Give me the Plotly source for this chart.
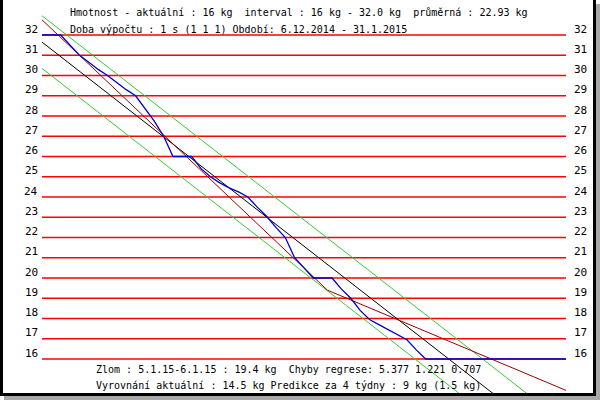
import plotly.graph_objects as go

# ---------------- data ----------------
start_date = "6.12.2014"
end_date = "31.1.2015"
n_days = 56  # 6.12.2014 .. 31.1.2015

levels = list(range(16, 33))          # horizontal lines / tick labels
tick_labels = [str(v) for v in levels]

# measured weight (clipped to interval 16..32), one value per day
weight_days = list(range(0, 57))
weight_vals = [32.0, 32.0, 32.0, 31.5, 31.0, 30.65, 30.3, 30.0, 29.65, 29.3,
               29.0, 28.4, 27.75, 27.0, 26.0, 26.0, 26.0, 25.4, 25.0, 24.7,
               24.45, 24.25, 24.0, 23.5, 23.05, 22.5, 22.0, 21.0, 20.5, 20.0,
               20.0, 20.0, 19.45, 19.0, 18.4, 17.95, 17.7, 17.45, 17.2, 16.95,
               16.45, 16.0, 16.0, 16.0, 16.0, 16.0, 16.0, 16.0, 16.0, 16.0,
               16.0, 16.0, 16.0, 16.0, 16.0, 16.0, 16.0]

# regression with break (zlom 5.1.15-6.1.15 : 19.4 kg)
reg_days = [0, 30.5, 56]
reg_vals = [32.75, 19.4, 14.45]

# overall linear trend and its band
trend_days = [0, 56]
trend_vals = [31.65, 11.49]
band_half = 1.3

header1 = "Hmotnost - aktuální : 16 kg  interval : 16 kg - 32.0 kg  průměrná : 22.93 kg"
header2 = "Doba výpočtu : 1 s (1 1 1) Období: 6.12.2014 - 31.1.2015"
footer1 = "Zlom : 5.1.15-6.1.15 : 19.4 kg  Chyby regrese: 5.377 1.221 0.707"
footer2 = "Vyrovnání aktuální : 14.5 kg Predikce za 4 týdny : 9 kg (1.5 kg)"

# ---------------- layout geometry ----------------
W, H = 600, 400
x0_px, x1_px = 42, 566
ppd = (x1_px - x0_px) / n_days
y32_px, kg_px = 35, 20.25

xr = [-x0_px / ppd, (W - x0_px) / ppd]
yr = [32 - (H - y32_px) / kg_px, 32 + y32_px / kg_px]

FONT = "DejaVu Sans Mono"

fig = go.Figure()

# red horizontal lines
hx, hy = [], []
for v in levels:
    hx += [0, n_days, None]
    hy += [v, v, None]
fig.add_trace(go.Scatter(x=hx, y=hy, mode="lines",
                         line=dict(color="#ff0000", width=1.3), hoverinfo="skip"))

# green band
fig.add_trace(go.Scatter(x=trend_days, y=[v + band_half for v in trend_vals], mode="lines",
                         line=dict(color="#33cc33", width=1), hoverinfo="skip"))
fig.add_trace(go.Scatter(x=trend_days, y=[v - band_half for v in trend_vals], mode="lines",
                         line=dict(color="#33cc33", width=1), hoverinfo="skip"))
# black trend
fig.add_trace(go.Scatter(x=trend_days, y=trend_vals, mode="lines",
                         line=dict(color="#000000", width=1), hoverinfo="skip"))
# brown regression
fig.add_trace(go.Scatter(x=reg_days, y=reg_vals, mode="lines",
                         line=dict(color="#990000", width=1), hoverinfo="skip"))
# blue measurement
fig.add_trace(go.Scatter(x=weight_days, y=weight_vals, mode="lines",
                         line=dict(color="#0000cc", width=1.3), hoverinfo="skip"))

ann = []
for v, t in zip(levels, tick_labels):
    ann.append(dict(x=40 / W, xref="paper", y=v, yref="y", text=t, showarrow=False,
                    xanchor="right", yanchor="middle", yshift=6,
                    font=dict(family=FONT, size=11, color="black")))
    ann.append(dict(x=572 / W, xref="paper", y=v, yref="y", text=t, showarrow=False,
                    xanchor="left", yanchor="middle", yshift=6,
                    font=dict(family=FONT, size=11, color="black")))

for txt, px, py in [(header1, 68, 13), (header2, 68, 29), (footer1, 94, 369), (footer2, 94, 385)]:
    ann.append(dict(x=px / W, xref="paper", y=1 - py / H, yref="paper", text=txt,
                    showarrow=False, xanchor="left", yanchor="middle",
                    font=dict(family=FONT, size=10, color="black")))

def rect(xa, ya, xb, yb, color):
    return dict(type="rect", xref="paper", yref="paper", layer="above",
                x0=xa / W, x1=xb / W, y0=1 - ya / H, y1=1 - yb / H,
                fillcolor=color, line=dict(width=0))

shapes = [
    rect(596, 4, 600, 400, "#a8a8a8"),
    rect(4, 396, 600, 400, "#a8a8a8"),
    rect(0, 0, 3, 396, "#000000"),
    rect(593, 0, 596, 396, "#000000"),
    rect(0, 393, 596, 396, "#000000"),
]

fig.update_layout(
    width=W, height=H,
    margin=dict(l=0, r=0, t=0, b=0, pad=0),
    paper_bgcolor="white", plot_bgcolor="white",
    showlegend=False,
    xaxis=dict(range=xr, visible=False, fixedrange=True),
    yaxis=dict(range=yr, visible=False, fixedrange=True),
    annotations=ann, shapes=shapes,
)

fig.write_html("out.html", config={"displayModeBar": False},
               post_script="document.body.style.margin='0';document.body.style.overflow='hidden';")
